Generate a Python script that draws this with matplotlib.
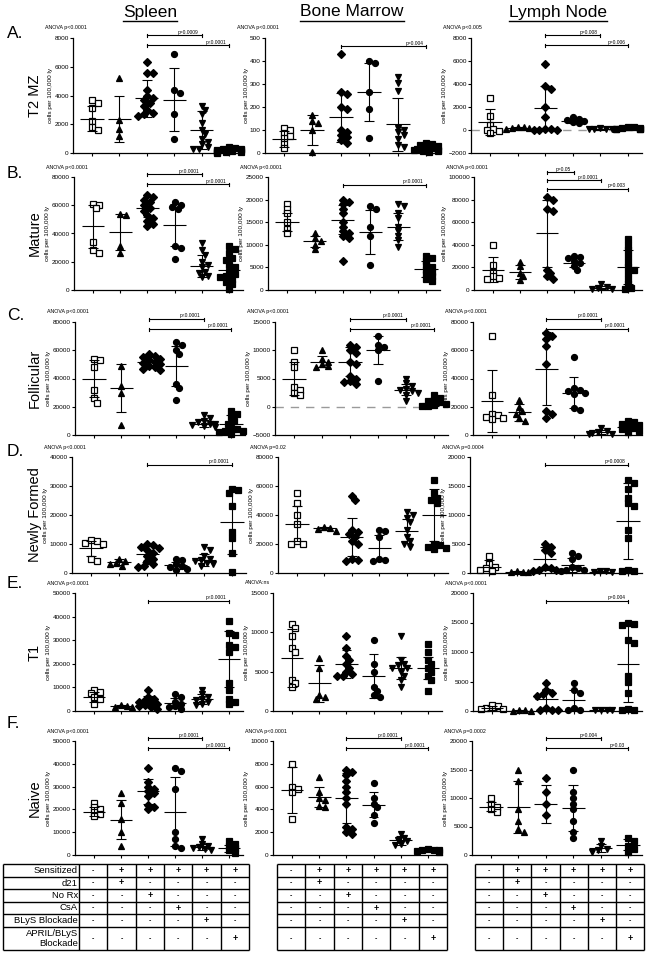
import numpy as np
import matplotlib.pyplot as plt

plt.rcParams['font.family'] = ['Liberation Sans', 'DejaVu Sans']

W, H = 654, 960

organs = ['Spleen', 'Bone Marrow', 'Lymph Node']
row_letters = ['A.', 'B.', 'C.', 'D.', 'E.', 'F.']
row_names = ['T2 MZ', 'Mature', 'Follicular', 'Newly Formed', 'T1', 'Naive']

markers = ['s', '^', 'D', 'o', 'v', 's']
faces = ['white', 'black', 'black', 'black', 'black', 'black']
msizes = [4.4, 4.6, 3.6, 4.3, 4.6, 4.2]

# ---------------- A. T2 MZ ----------------
a_spl_pts = [[3700, 3500, 3100, 2200, 1800, 1600],
             [5200, 2300, 1700, 1200],
             [6300, 5600, 5600, 4400, 4000, 3800, 3700, 3500, 3300, 3000, 2800, 2700, 2600],
             [6900, 4400, 4200, 2700, 1000],
             [3300, 3000, 2700, 2100, 1600, 1300, 1000, 800, 600, 400, 300, 250],
             [400, 350, 300, 250, 200, 180, 150, 120, 100, 80, 50, 30]]
a_spl_mean = [2400, 2400, 3800, 3700, 1600, 180]
a_spl_sd = [900, 1600, 1300, 2200, 1300, 120]

a_bm_pts = [[110, 100, 85, 75, 65, 40, 20],
            [165, 140, 130, 100, 5],
            [430, 265, 255, 200, 190, 100, 90, 80, 70, 55, 45],
            [400, 390, 265, 190, 65],
            [330, 305, 270, 110, 100, 90, 80, 60, 35, 25],
            [45, 40, 35, 30, 25, 20, 18, 15, 12, 10, 8, 5]]
a_bm_mean = [60, 100, 155, 265, 125, 20]
a_bm_sd = [35, 65, 105, 125, 115, 12]

a_ln_pts = [[2800, 1200, 400, 100, 0, -100, -300],
            [300, 250, 200, 150, 100],
            [5700, 3800, 3600, 2000, 1100, 100, 50, 0, 0, 0],
            [1100, 1000, 900, 800, 700, 600],
            [150, 100, 80, 60, 50],
            [300, 250, 200, 150, 100, 80, 60, 50]]
a_ln_mean = [700, 200, 1900, 800, 50, 120]
a_ln_sd = [1100, 100, 1900, 150, 40, 80]

# ---------------- B. Mature ----------------
b_spl_pts = [[61000, 60500, 58000, 34000, 28000, 26500],
             [54000, 53000, 31000, 26000],
             [67000, 66000, 64000, 62000, 60000, 58000, 56000, 53000, 51000, 49000, 47000, 45000],
             [62000, 60000, 59000, 57000, 31000, 30000, 22000],
             [33000, 28000, 25000, 20000, 18000, 16000, 13000, 12000, 10000, 9000],
             [31000, 29000, 26000, 23000, 21000, 18000, 16000, 13000, 11000, 10000, 9000, 8000, 6000, 4000, 1000]]
b_spl_mean = [45000, 41000, 58000, 46000, 17000, 14000]
b_spl_sd = [15000, 13000, 6000, 15000, 8000, 8000]

b_bm_pts = [[19000, 18000, 17000, 15000, 13500, 12500],
            [12500, 11500, 10800, 10000, 9000],
            [20000, 19500, 19000, 18000, 17000, 15000, 14000, 13000, 12500, 12000, 11500, 6500],
            [18500, 18000, 14000, 12000, 5500],
            [19000, 18500, 17000, 16000, 14000, 13000, 12000, 11000, 9500],
            [7500, 7000, 6500, 5500, 5000, 4500, 4000, 3500, 3000, 2500, 2000]]
b_bm_mean = [15000, 10800, 15500, 12800, 14000, 4700]
b_bm_sd = [2000, 1200, 3200, 4800, 3000, 1800]

b_ln_pts = [[40000, 22000, 16000, 12000, 11000, 10000],
            [25000, 21000, 15000, 12000, 9000],
            [82000, 80000, 72000, 70000, 18000, 15000, 12000, 10000],
            [30000, 29000, 28000, 26000, 24000, 21000, 18000],
            [5000, 2500, 1500, 1000, 500],
            [45000, 40000, 35000, 30000, 25000, 20000, 18000, 15000, 10000, 5000, 2000, 1000]]
b_ln_mean = [18000, 16000, 50000, 24000, 2000, 20000]
b_ln_sd = [11000, 6000, 30000, 4000, 1500, 15000]

# ---------------- C. Follicular ----------------
c_spl_pts = [[54000, 53000, 48000, 32000, 26000, 23000],
             [49000, 35000, 30000, 7000],
             [57000, 56000, 55000, 54000, 53000, 52000, 51000, 50000, 49000, 48000, 47000, 46000],
             [66000, 64000, 60000, 57000, 36000, 33000, 25000],
             [14000, 12000, 10000, 9000, 8000, 7500, 7000, 6500, 6000],
             [17000, 15000, 13000, 10000, 8000, 5000, 4000, 3000, 2500, 2000, 1000]]
c_spl_mean = [40000, 33000, 52000, 49000, 8000, 8000]
c_spl_sd = [13000, 17000, 3000, 14000, 2500, 6000]

c_bm_pts = [[10000, 8000, 7000, 3500, 3000, 2500, 2000],
            [10000, 8500, 8000, 7500, 7200, 7000],
            [11000, 10500, 10000, 9500, 8000, 7500, 5500, 5000, 4500, 4300, 4000],
            [12500, 11000, 10500, 10000, 4500],
            [5000, 4200, 3700, 3200, 3000, 2800, 2500, 2000, 1000],
            [2000, 1600, 1200, 1000, 800, 500, 300, 200, 100]]
c_bm_mean = [5000, 8000, 8000, 10000, 3000, 600]
c_bm_sd = [3000, 1000, 2500, 2500, 1000, 500]

c_ln_pts = [[70000, 28000, 15000, 14000, 13000, 12000, 11500],
            [25000, 20000, 17000, 15000, 12000, 10000],
            [72000, 70000, 68000, 63000, 50000, 17000, 15000, 12000],
            [55000, 33000, 32000, 31000, 30000, 29000, 19000, 18000],
            [5000, 3000, 2000, 1500, 1000, 800],
            [10000, 9000, 8000, 7000, 6000, 5000, 4000, 3000, 2000]]
c_ln_mean = [24000, 16000, 47000, 30000, 2000, 6000]
c_ln_sd = [22000, 6000, 26000, 11000, 1500, 3000]

# ---------------- D. Newly Formed ----------------
d_spl_pts = [[11500, 11000, 10500, 10000, 5000, 4000],
             [5000, 4000, 3500, 3000, 2500],
             [10000, 9500, 9000, 8500, 8000, 7000, 6000, 5000, 4000, 3000, 2500, 2000],
             [5000, 4500, 3000, 2500, 2000, 1500, 1000],
             [9000, 8000, 6000, 5000, 4500, 4000, 3500, 3000, 2500],
             [29000, 28500, 27500, 23000, 14000, 12000, 7000, 500]]
d_spl_mean = [8500, 3800, 6500, 2700, 4500, 17500]
d_spl_sd = [2500, 1000, 2800, 1200, 2000, 11000]

d_bm_pts = [[55000, 48000, 40000, 34000, 22000, 20000, 20000],
            [32000, 31000, 30500, 29000],
            [53000, 50000, 30000, 28000, 27000, 25000, 22000, 20000, 10000, 9000, 8500],
            [30000, 29000, 25000, 10000, 9000, 8000],
            [42000, 40000, 38000, 35000, 30000, 25000, 22000, 20000, 18000],
            [64000, 55000, 52000, 50000, 48000, 20000, 19000, 18000, 17000, 16500]]
d_bm_mean = [34000, 31000, 25000, 17000, 29000, 40000]
d_bm_sd = [12000, 1000, 13000, 9000, 8000, 18000]

d_ln_pts = [[3000, 1500, 1000, 800, 500, 300],
            [300, 200, 150, 100],
            [5000, 4500, 4000, 3500, 1000, 800, 600, 500, 400],
            [3500, 3000, 2500, 1000, 800, 600, 500, 400],
            [350, 300, 250, 200],
            [16000, 15500, 14500, 13000, 12000, 11500, 7500, 6000, 500, 400, 300]]
d_ln_mean = [1000, 200, 2500, 1400, 250, 9000]
d_ln_sd = [1200, 80, 2000, 1200, 60, 6500]

# ---------------- E. T1 ----------------
e_spl_pts = [[9000, 8000, 7500, 6000, 5000, 3000],
             [2500, 2000, 1800, 1500],
             [9000, 6000, 5000, 4500, 4000, 3500, 3000, 2500, 2000, 1500, 1000],
             [7000, 6000, 4000, 3000, 2000, 1500, 1000],
             [9000, 7000, 6000, 5000, 4500, 4000, 3000, 2500],
             [38000, 33000, 32000, 28000, 27000, 25000, 12000, 9000, 5000, 4000, 3000]]
e_spl_mean = [6000, 2000, 4000, 3500, 5000, 22000]
e_spl_sd = [2000, 400, 2500, 2200, 2000, 12000]

e_bm_pts = [[11000, 10500, 9500, 8000, 7500, 4000, 3500, 3000],
            [6800, 5500, 2000, 1800, 1500],
            [9500, 8000, 7000, 6500, 6000, 5500, 5000, 4700, 4500, 4500],
            [9000, 6000, 5000, 3000, 2500, 2000, 1800],
            [9500, 6500, 6000, 5800, 5500, 5500, 5000, 4500, 4000, 3000],
            [8500, 7500, 6500, 6000, 5500, 5000, 4500, 4000, 2500]]
e_bm_mean = [6700, 3500, 6000, 4400, 5500, 5500]
e_bm_sd = [3700, 2300, 1800, 2800, 1400, 1400]

e_ln_pts = [[1000, 800, 500, 400, 300],
            [100, 100, 50, 50],
            [4800, 3500, 3000, 2800, 2500, 500, 200, 100, 100],
            [4800, 3500, 3000, 500, 200, 100],
            [200, 150, 100, 100],
            [15000, 14800, 14500, 12000, 11500, 6000, 5000, 3000, 300, 200, 200]]
e_ln_mean = [500, 80, 2000, 1800, 150, 8000]
e_ln_sd = [300, 30, 1800, 1700, 50, 6500]

# ---------------- F. Naive ----------------
f_spl_pts = [[23000, 21000, 20000, 19000, 18000, 17000],
             [27000, 23000, 16000, 10000, 4000],
             [38000, 32000, 30000, 29000, 28000, 27000, 26000, 22000, 21000, 20000],
             [38000, 37000, 29000, 10000, 7000, 4000, 3000],
             [7000, 5000, 4000, 3500, 3000, 2500, 2000],
             [6000, 5000, 4000, 3000, 2000, 1000]]
f_spl_mean = [19000, 15500, 28000, 19000, 3500, 3000]
f_spl_sd = [2000, 8500, 5500, 15000, 1500, 1500]

f_bm_pts = [[8000, 6000, 5800, 5500, 3200],
            [6800, 5500, 5000, 4800, 4300, 4200],
            [7500, 7300, 7000, 6500, 6000, 5500, 5000, 4500, 2500, 2300, 2000, 1800],
            [6300, 5000, 4500, 4200, 3500, 2800],
            [1800, 1500, 1300, 1200, 1000, 900],
            [500, 450, 400, 400, 350, 300]]
f_bm_mean = [5700, 5100, 5000, 4400, 1300, 400]
f_bm_sd = [2000, 900, 2200, 1100, 400, 80]

f_ln_pts = [[10000, 9000, 8500, 8000, 7500],
            [15000, 13000, 8000, 6000, 4500, 4000],
            [13500, 11000, 9000, 7000],
            [15000, 11000, 10000, 9000, 8000, 6000, 4000, 3000],
            [2500, 1500, 1000, 800, 500],
            [3000, 2500, 1500, 1000, 500]]
f_ln_mean = [8500, 8400, 9000, 8200, 1200, 1800]
f_ln_sd = [800, 4500, 3300, 4000, 700, 1000]

# y axis ranges (min, max, step)
y_ranges = [[(0, 8000, 2000), (0, 500, 100), (-2000, 8000, 2000)],
            [(0, 80000, 20000), (0, 25000, 5000), (0, 100000, 20000)],
            [(0, 80000, 20000), (-5000, 15000, 5000), (0, 80000, 20000)],
            [(0, 40000, 10000), (0, 80000, 20000), (0, 20000, 5000)],
            [(0, 50000, 10000), (0, 15000, 5000), (0, 20000, 5000)],
            [(0, 50000, 10000), (0, 10000, 2000), (0, 20000, 5000)]]

anova = [['ANOVA p<0.0001', 'ANOVA p<0.0001', 'ANOVA p<0.005'],
         ['ANOVA p<0.0001', 'ANOVA p<0.0001', 'ANOVA p<0.0001'],
         ['ANOVA p<0.0001', 'ANOVA p<0.0001', 'ANOVA p<0.0001'],
         ['ANOVA p<0.0001', 'ANOVA p=0.02', 'ANOVA p=0.0004'],
         ['ANOVA p<0.0001', 'ANOVA:ns', 'ANOVA p<0.0001'],
         ['ANOVA p<0.0001', 'ANOVA p<0.0001', 'ANOVA p=0.0002']]

pbars = [[[(2, 4, 'p=0.0009'), (2, 5, 'p<0.0001')], [(2, 5, 'p=0.004')], [(2, 4, 'p=0.008'), (2, 5, 'p=0.006')]],
         [[(2, 4, 'p<0.0001'), (2, 5, 'p<0.0001')], [(2, 5, 'p<0.0001')],
          [(2, 3, 'p=0.05'), (2, 4, 'p<0.0001'), (2, 5, 'p=0.003')]],
         [[(2, 4, 'p<0.0001'), (2, 5, 'p<0.0001')], [(2, 4, 'p<0.0001'), (2, 5, 'p<0.0001')],
          [(2, 4, 'p<0.0001'), (2, 5, 'p<0.0001')]],
         [[(2, 5, 'p<0.0001')], [], [(2, 5, 'p=0.0008')]],
         [[(2, 5, 'p<0.0001')], [], [(2, 5, 'p=0.004')]],
         [[(2, 4, 'p<0.0001'), (2, 5, 'p<0.0001')], [(2, 4, 'p<0.0001'), (2, 5, 'p<0.0001')],
          [(2, 4, 'p=0.004'), (2, 5, 'p=0.03')]]]

zero_lines = [(0, 2), (2, 1)]

table_rows = ['Sensitized', 'd21', 'No Rx', 'CsA', 'BLyS Blockade', 'APRIL/BLyS\nBlockade']
table_signs = [['-', '+', '+', '+', '+', '+'],
               ['-', '+', '-', '-', '-', '-'],
               ['-', '-', '+', '-', '-', '-'],
               ['-', '-', '-', '+', '-', '-'],
               ['-', '-', '-', '-', '+', '-'],
               ['-', '-', '-', '-', '-', '+']]

all_pts = [[a_spl_pts, a_bm_pts, a_ln_pts], [b_spl_pts, b_bm_pts, b_ln_pts], [c_spl_pts, c_bm_pts, c_ln_pts],
           [d_spl_pts, d_bm_pts, d_ln_pts], [e_spl_pts, e_bm_pts, e_ln_pts], [f_spl_pts, f_bm_pts, f_ln_pts]]
all_mean = [[a_spl_mean, a_bm_mean, a_ln_mean], [b_spl_mean, b_bm_mean, b_ln_mean], [c_spl_mean, c_bm_mean, c_ln_mean],
            [d_spl_mean, d_bm_mean, d_ln_mean], [e_spl_mean, e_bm_mean, e_ln_mean], [f_spl_mean, f_bm_mean, f_ln_mean]]
all_sd = [[a_spl_sd, a_bm_sd, a_ln_sd], [b_spl_sd, b_bm_sd, b_ln_sd], [c_spl_sd, c_bm_sd, c_ln_sd],
          [d_spl_sd, d_bm_sd, d_ln_sd], [e_spl_sd, e_bm_sd, e_ln_sd], [f_spl_sd, f_bm_sd, f_ln_sd]]

# layout in pixels: row (top, bottom), and per-row column (left, right)
row_tb = [(38, 153), (177, 290), (322, 435), (457, 573), (593, 711), (741, 855)]
col_lr = [[(73, 243), (265, 440), (471, 642)],
          [(74, 243), (268, 440), (474, 642)],
          [(75, 245), (275, 448), (473, 642)],
          [(72, 246), (278, 448), (470, 642)],
          [(75, 243), (273, 442), (473, 642)],
          [(75, 243), (273, 442), (472, 642)]]

fig = plt.figure(figsize=(W / 100, H / 100), dpi=100)
ov = fig.add_axes([0, 0, 1, 1])
ov.set_xlim(0, W)
ov.set_ylim(H, 0)
ov.axis('off')


def swarm(vals, ylo, yhi, h_px, unit, d=5.5):
    ys = (np.asarray(vals, float) - ylo) / (yhi - ylo) * h_px
    placed, offs = [], []
    steps = [0] + [s * k for k in range(1, 9) for s in (1, -1)]
    for y in ys:
        x = 0.0
        for k in steps:
            x = k * d * 0.55
            if all((x - px) ** 2 + (y - py) ** 2 >= (0.8 * d) ** 2 for px, py in placed):
                break
        placed.append((x, y))
        offs.append(x / unit)
    return np.clip(offs, -0.42, 0.42)


for r in range(6):
    t, b = row_tb[r]
    for c in range(3):
        l, rr = col_lr[r][c]
        w_px, h_px = rr - l, b - t
        ax = fig.add_axes([l / W, 1 - b / H, w_px / W, h_px / H])
        ax.patch.set_alpha(0)
        unit = (w_px - 33) / 5
        ax.set_xlim(-19 / unit, 5 + 14 / unit)
        ylo, yhi, ystep = y_ranges[r][c]
        ax.set_ylim(ylo, yhi)
        if (r, c) in zero_lines:
            ax.axhline(0, color='#9a9a9a', lw=1.0, ls=(0, (6, 5)), zorder=1)
        pts, means, sds = all_pts[r][c], all_mean[r][c], all_sd[r][c]
        for i in range(6):
            vals = pts[i]
            offs = swarm(vals, ylo, yhi, h_px, unit)
            ax.plot(i + offs, vals, ls='none', marker=markers[i], ms=msizes[i], mfc=faces[i],
                    mec='black', mew=0.9, zorder=2, clip_on=False)
            m, s = means[i], sds[i]
            ax.vlines(i, max(m - s, ylo), m + s, color='black', lw=0.8, zorder=3)
            caps = [m + s] if m - s < ylo else [m - s, m + s]
            ax.hlines(caps, i - 0.18, i + 0.18, color='black', lw=0.8, zorder=3)
            ax.hlines(m, i - 0.42, i + 0.42, color='black', lw=0.8, zorder=3)
        for sp in ['top', 'right']:
            ax.spines[sp].set_visible(False)
        for sp in ['left', 'bottom']:
            ax.spines[sp].set_linewidth(0.9)
        ax.set_xticks(range(6))
        ax.set_xticklabels([])
        ax.set_yticks(np.arange(ylo, yhi + 1, ystep))
        ax.tick_params(axis='both', length=2, width=0.8, labelsize=4.6, pad=1)
        ax.set_ylabel('cells per 100,000 ly', fontsize=4.6, labelpad=1)

        ov.text(l - 28, t - 10, anova[r][c], fontsize=3.8, ha='left', va='center')

        bars = pbars[r][c]
        offsets = {1: [8], 2: [-3, 7], 3: [-5, 3, 12]}.get(len(bars), [])
        tr = ax.get_xaxis_transform()
        for (g0, g1, lab), off in zip(bars, offsets):
            yf = 1 - off / h_px
            cap = 1.5 / h_px
            ax.plot([g0, g1], [yf, yf], transform=tr, color='black', lw=0.8, clip_on=False)
            for g in (g0, g1):
                ax.plot([g, g], [yf - cap, yf + cap], transform=tr, color='black', lw=0.8, clip_on=False)
            ax.text(g1 - 0.1, yf + 0.5 / h_px, lab, transform=tr, fontsize=3.5, ha='right', va='bottom')

    ov.text(7, [34, 173, 316, 451, 583, 723][r], row_letters[r], fontsize=12.5, ha='left', va='center')
    ov.text(35, (t + b) / 2, row_names[r], fontsize=10.5, rotation=90, ha='center', va='center')

# column titles, underlined
title_x = [150, 352, 558]
titles = []
for c in range(3):
    titles.append(ov.text(title_x[c], 12, organs[c], fontsize=12.5, ha='center', va='center'))
fig.canvas.draw()
rend = fig.canvas.get_renderer()
for tt in titles:
    bb = tt.get_window_extent(rend)
    yl = H - bb.y0 + 1
    ov.plot([bb.x0, bb.x1], [yl, yl], color='black', lw=1.0)

# treatment tables
row_edges = [864, 877, 889, 902, 914, 927, 950]
tables = [(3, 79, 249), (277, 277, 447), (475, 475, 644)]
for k, (x0, xc, x1) in enumerate(tables):
    cw = (x1 - xc) / 6
    xs = [xc + j * cw for j in range(7)]
    if xc > x0:
        xs = [x0] + xs
    ov.hlines(row_edges, x0, x1, color='black', lw=1.0)
    ov.vlines(xs, row_edges[0], row_edges[-1], color='black', lw=1.0)
    for i in range(6):
        yc = (row_edges[i] + row_edges[i + 1]) / 2
        if xc > x0:
            ov.text(xc - 1, yc, table_rows[i], fontsize=6.8, ha='right', va='center', linespacing=1.05)
        for j in range(6):
            sgn = table_signs[i][j]
            ov.text(xc + (j + 0.5) * cw, yc, sgn, fontsize=6.5 if sgn == '+' else 5,
                    ha='center', va='center', fontweight='bold')

fig.savefig('out.png', dpi=100)
